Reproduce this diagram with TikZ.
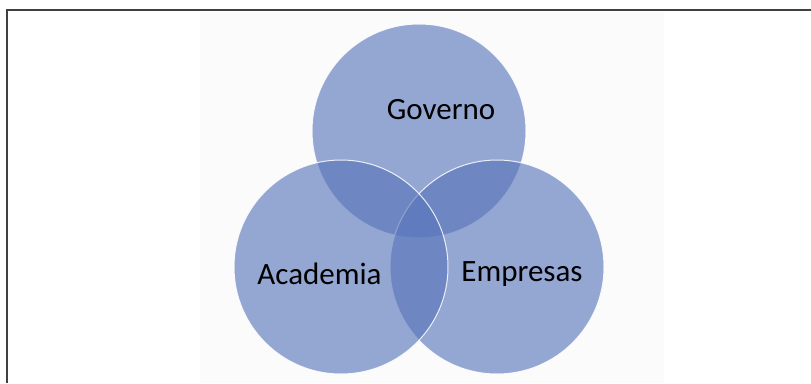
\documentclass[tikz,border=0pt]{standalone}
\usepackage{fontspec}
\setmainfont{Carlito}
\definecolor{vennfill}{HTML}{5A77BC}
\definecolor{framegray}{HTML}{404040}
\definecolor{offwhite}{HTML}{FBFBFB}
\begin{document}
\begin{tikzpicture}[x=1pt,y=-1pt,
  venn/.style={circle, minimum size=214pt, inner sep=0pt, fill=vennfill, fill opacity=0.64, draw=white, draw opacity=0.85, line width=1pt},
  lbl/.style={font=\fontsize{31}{36}\selectfont, text=black, inner sep=0pt}]
\useasboundingbox (0,0) rectangle (811,383);
\fill[white] (0,0) rectangle (811,383);
\fill[offwhite] (200,12) rectangle (664,383);
\draw[framegray, line width=1.5pt] (7,383) -- (7,10) -- (811,10);
\node[venn] (gov) at (419,131) {};
\node[venn] (emp) at (497,267) {};
\node[venn] (aca) at (341,267) {};
\node[lbl] (tgov) at (441,110) {Governo};
\node[lbl] (taca) at (319.5,274) {Academia};
\node[lbl] (temp) at (522,274) {Empresas};
\end{tikzpicture}
\end{document}
